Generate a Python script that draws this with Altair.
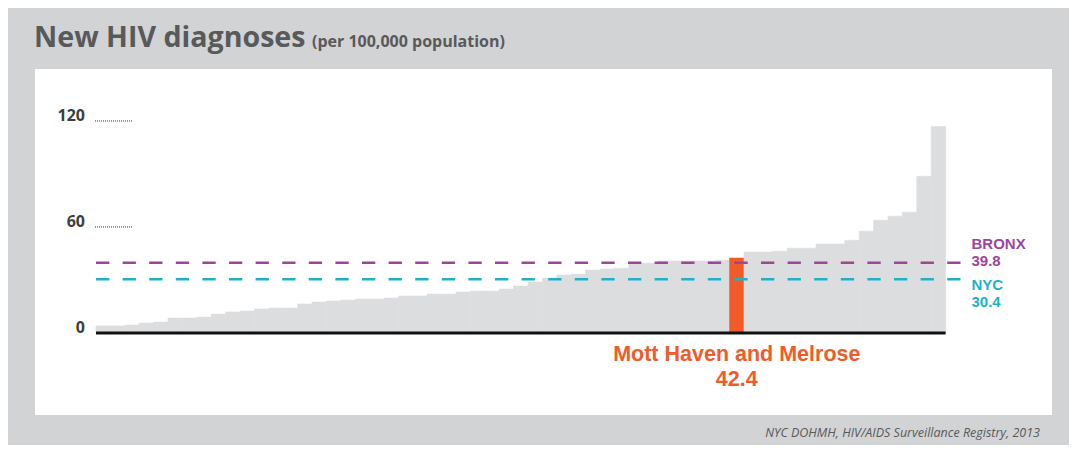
import altair as alt
import pandas as pd

# ---- data ----
rates = [4.0, 4.0, 4.5, 5.6, 6.2, 8.5, 8.5, 9.0, 10.7, 11.9,
         12.4, 13.6, 14.1, 14.1, 16.4, 17.5, 18.1, 18.6, 19.2, 19.2,
         19.8, 20.9, 20.9, 22.0, 22.0, 23.2, 23.7, 23.7, 24.9, 26.6,
         28.8, 31.1, 32.8, 33.3, 35.6, 36.2, 36.7, 39.5, 39.5, 40.7,
         40.7, 40.7, 40.7, 41.2, 42.4, 45.8, 45.8, 46.3, 48.0, 48.0,
         50.3, 50.3, 52.5, 57.6, 63.8, 66.1, 68.4, 88.7, 116.9]
highlight_index = 44
highlight_name = "Mott Haven and Melrose"
highlight_value_label = "42.4"
ref_names = ["BRONX", "NYC"]
ref_values = [39.8, 30.4]
ref_value_labels = ["39.8", "30.4"]
y_ticks = [0, 60, 120]
title_text = "New HIV diagnoses"
subtitle_text = "(per 100,000 population)"
source_text = "NYC DOHMH, HIV/AIDS Surveillance Registry, 2013"

# ---- styles ----
BG = "#d1d3d4"
BAR = "#dcdddf"
ORANGE = "#f15a29"
PURPLE = "#9c459b"
CYAN = "#1db2c8"
DARK = "#58595b"
FONT = "Open Sans"
LABEL_FONT = "Liberation Sans"
ref_colors = [PURPLE, CYAN]

bars = pd.DataFrame({"i": list(range(len(rates))), "rate": rates})
bars["i2"] = bars["i"] + 1
bars["zero"] = 0
bars["hl"] = bars["i"] == highlight_index

X = alt.Scale(domain=[-4.236, 66.39], nice=False, zero=False)
Y = alt.Scale(domain=[-46.4, 149.4], nice=False, zero=False)

bar_layer = alt.Chart(bars).mark_rect(strokeWidth=0.6).encode(
    x=alt.X("i:Q", scale=X, axis=None),
    x2="i2:Q",
    y=alt.Y("rate:Q", scale=Y, axis=None),
    y2="zero:Q",
    color=alt.condition("datum.hl", alt.value(ORANGE), alt.value(BAR)),
    stroke=alt.condition("datum.hl", alt.value(ORANGE), alt.value(BAR)),
)

base_df = pd.DataFrame({"a": [0], "b": [len(rates)], "y": [0]})
baseline = alt.Chart(base_df).mark_rule(color="#111111", strokeWidth=3, strokeCap="butt").encode(
    x=alt.X("a:Q", scale=X, axis=None), x2="b:Q", y=alt.Y("y:Q", scale=Y, axis=None)
)

refs = pd.DataFrame({"name": ref_names, "value": ref_values,
                     "vlabel": ref_value_labels, "color": ref_colors})
refs["label"] = refs["name"] + "\n" + refs["vlabel"]
ref_rules = alt.Chart(refs).mark_rule(strokeDash=[13.3, 13.3], strokeWidth=2.5, strokeCap="butt").encode(
    x=alt.value(61), x2=alt.value(927),
    y=alt.Y("value:Q", scale=Y, axis=None),
    color=alt.Color("color:N", scale=None),
)

def ref_text(name, dy):
    return alt.Chart(refs).transform_filter(alt.datum.name == name).mark_text(
        align="left", baseline="alphabetic", font=LABEL_FONT, fontWeight="bold", fontSize=15,
        dy=dy, lineBreak="\n", lineHeight=17
    ).encode(
        x=alt.value(936.5),
        y=alt.Y("value:Q", scale=Y, axis=None),
        text="label:N",
        color=alt.Color("color:N", scale=None),
    )

bronx_label = ref_text("BRONX", -13.8)
nyc_label = ref_text("NYC", 10.6)

ticks = pd.DataFrame({"v": y_ticks, "label": [str(t) for t in y_ticks]})
tick_labels = alt.Chart(ticks).mark_text(
    align="right", baseline="alphabetic", font=FONT, fontWeight="bold", fontSize=16, color="#3d3d3d"
).encode(x=alt.value(50), y=alt.Y("v:Q", scale=Y, axis=None), text="label:N")
tick_dots = alt.Chart(ticks[ticks["v"] > 0]).mark_rule(
    strokeDash=[1, 1], strokeWidth=1, color="#333333"
).encode(x=alt.value(60), x2=alt.value(97), y=alt.Y("v:Q", scale=Y, axis=None))

hl_df = pd.DataFrame({"x": [highlight_index + 0.5], "y": [0],
                      "label": [highlight_name + "\n" + highlight_value_label]})
hl_label = alt.Chart(hl_df).mark_text(
    align="center", baseline="alphabetic", font=LABEL_FONT, fontWeight="bold", fontSize=21.5, color=ORANGE,
    dy=28, lineBreak="\n", lineHeight=24.5
).encode(x=alt.X("x:Q", scale=X, axis=None), y=alt.Y("y:Q", scale=Y, axis=None), text="label:N")

txt_df = pd.DataFrame({"title": [title_text], "sub": [subtitle_text], "src": [source_text]})
title = alt.Chart(txt_df).mark_text(
    align="left", baseline="alphabetic", font=FONT, fontWeight="bold", fontSize=28.6, color=DARK
).encode(x=alt.value(-1), y=alt.value(-22), text="title:N")
subtitle = alt.Chart(txt_df).mark_text(
    align="left", baseline="alphabetic", font=FONT, fontWeight="bold", fontSize=16, color=DARK
).encode(x=alt.value(277), y=alt.value(-22), text="sub:N")
source = alt.Chart(txt_df).mark_text(
    align="right", baseline="alphabetic", font=FONT, fontStyle="italic",
    fontSize=12.5, color=DARK
).encode(x=alt.value(1005), y=alt.value(368), text="src:N")

chart = alt.layer(
    bar_layer, baseline, ref_rules, bronx_label, nyc_label,
    tick_dots, tick_labels, hl_label, title, subtitle, source
).properties(
    width=1017, height=346,
    autosize=alt.AutoSizeParams(type="none"),
    padding={"left": 27, "top": 61, "right": 17, "bottom": 30},
    background=BG,
).configure_view(stroke=None, fill="white")

chart.save("out.html", embed_options={"renderer": "svg", "actions": False})
